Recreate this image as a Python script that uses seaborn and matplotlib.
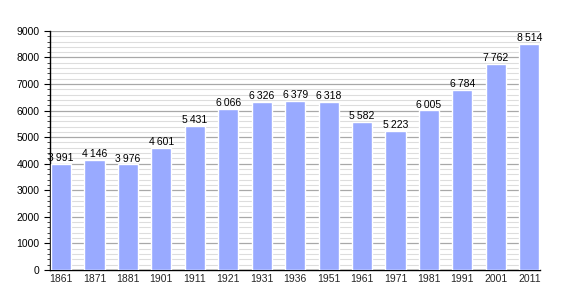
import matplotlib
matplotlib.use("Agg")
import matplotlib.pyplot as plt
import seaborn as sns
import pandas as pd
from matplotlib.ticker import MultipleLocator

years = ["1861", "1871", "1881", "1901", "1911", "1921", "1931", "1936",
         "1951", "1961", "1971", "1981", "1991", "2001", "2011"]
population = [3991, 4146, 3976, 4601, 5431, 6066, 6326, 6379,
              6318, 5582, 5223, 6005, 6784, 7762, 8514]

df = pd.DataFrame({"year": years, "pop": population})

sns.set_style("white")
plt.rcParams["font.family"] = ["Liberation Sans", "DejaVu Sans"]

fig = plt.figure(figsize=(5.7, 3.0), dpi=100)
ax = fig.add_axes([0.0877, 0.1, 0.859, 0.797])

sns.barplot(data=df, x="year", y="pop", color="#99aaff", saturation=1,
            width=0.6, ax=ax, zorder=3)

ax.set_xlim(-0.33, 14.31)
ax.set_ylim(0, 9000)
ax.yaxis.set_major_locator(MultipleLocator(1000))
ax.yaxis.set_minor_locator(MultipleLocator(200))
ax.grid(which="major", axis="y", color="#a8a8a8", linewidth=0.9, zorder=0)
ax.grid(which="minor", axis="y", color="#dddddd", linewidth=0.8, zorder=0)
ax.set_axisbelow(True)

for s in ["top", "right"]:
    ax.spines[s].set_visible(False)
for s in ["left", "bottom"]:
    ax.spines[s].set_color("black")
    ax.spines[s].set_linewidth(1.0)

ax.tick_params(axis="y", which="major", left=True, length=4, width=0.8,
               labelsize=7.5, colors="black")
ax.tick_params(axis="y", which="minor", left=True, length=2, width=0.6)
ax.tick_params(axis="x", length=0, labelsize=7.5, pad=3)
ax.set_xlabel("")
ax.set_ylabel("")

for i, v in enumerate(population):
    label = f"{v:,}".replace(",", "\u2009")
    ax.text(i, v + 30, label, ha="center", va="bottom", fontsize=7.5,
            color="black", zorder=5)

fig.savefig("out.png", dpi=100)
